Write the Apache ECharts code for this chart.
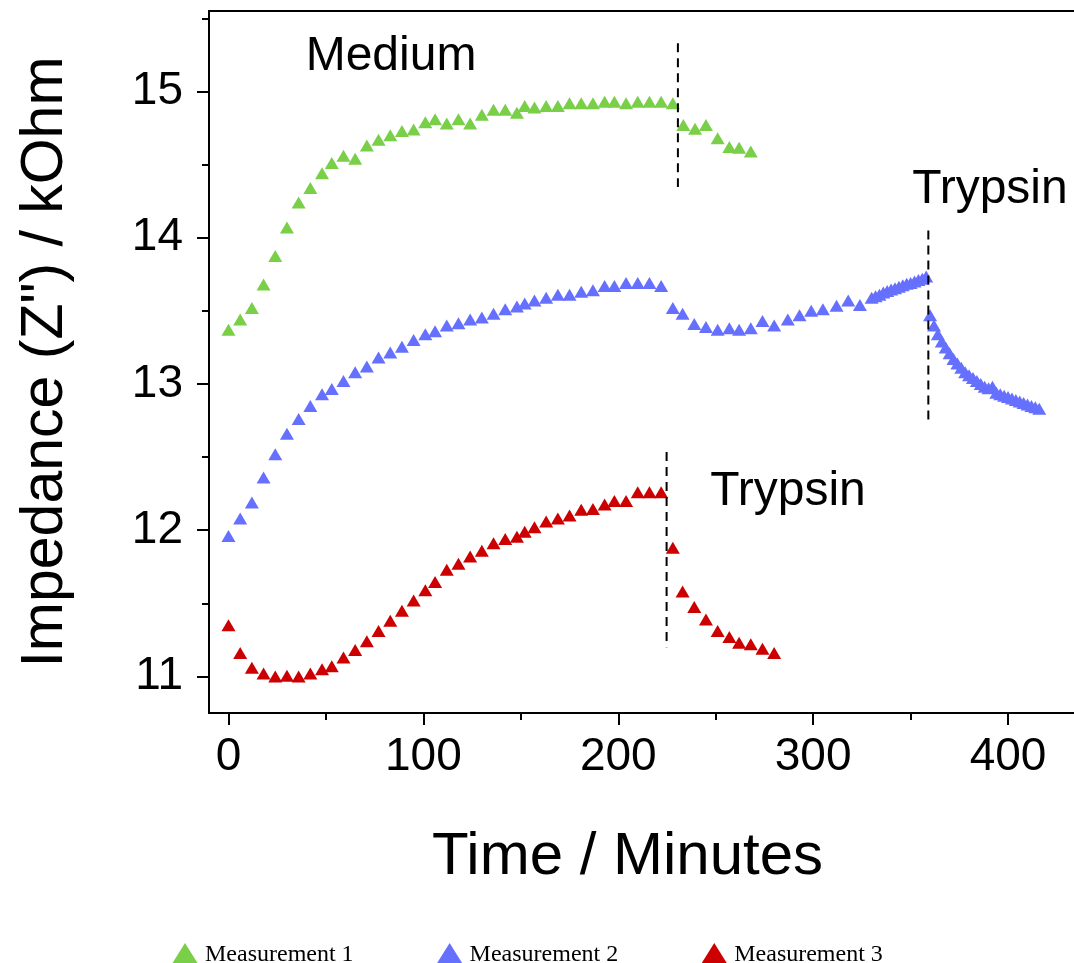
<!DOCTYPE html>
<html lang="en">
<head>
    <meta charset="UTF-8">
    <script src="https://cdn.jsdelivr.net/npm/echarts@6/dist/echarts.min.js"></script>
    <title>Impedance</title>
    <style>
        html, body { margin: 0; padding: 0; background: #fff; overflow: hidden; }
        #chart { width: 1074px; height: 963px; }
    </style>
</head>
<body>
    <div id="chart"></div>
    <script>
// time in minutes, impedance in kOhm
var m1Time = [0, 6, 12, 18, 24, 30, 36, 42, 48, 53, 59, 65, 71, 77, 83, 89, 95, 101, 106, 112, 118, 124, 130, 136, 142, 148, 152, 157, 163, 169, 175, 181, 187, 193, 198, 204, 210, 216, 222, 228,
    233.4, 239.4, 245, 251, 257, 262, 268];
var m1Z = [13.37, 13.44, 13.52, 13.68, 13.875, 14.07, 14.24, 14.34, 14.44, 14.51, 14.56, 14.54, 14.63, 14.67, 14.70, 14.73, 14.74, 14.79, 14.81, 14.78, 14.81, 14.78, 14.84, 14.875, 14.875, 14.855, 14.90, 14.89, 14.90, 14.90, 14.92, 14.92, 14.92, 14.93, 14.93, 14.92, 14.93, 14.93, 14.93, 14.92,
    14.77, 14.745, 14.77, 14.68, 14.62, 14.615, 14.59];

var m2Time = [0, 6, 12, 18, 24, 30, 36, 42, 48, 53, 59, 65, 71, 77, 83, 89, 95, 101, 106, 112, 118, 124, 130, 136, 142, 148, 152, 157, 163, 169, 175, 181, 187, 193, 198, 204, 210, 216, 222,
    228, 233, 239, 245, 251, 257, 262, 268, 274, 280, 287, 293, 299, 305, 312, 318, 324,
    330, 332, 334, 336, 338, 340, 342, 344, 346, 348, 350, 352, 354, 356, 358,
    360, 362, 364, 366, 368, 370, 372, 374, 376, 378, 380, 382, 384, 386, 388, 390, 392, 394, 396, 398, 400, 402, 404, 406, 408, 410, 412, 414, 416];
var m2Z = [11.96, 12.08, 12.19, 12.36, 12.52, 12.66, 12.76, 12.85, 12.93, 12.965, 13.02, 13.08, 13.12, 13.18, 13.215, 13.255, 13.30, 13.34, 13.36, 13.40, 13.415, 13.44, 13.455, 13.48, 13.51, 13.53, 13.55, 13.57, 13.59, 13.61, 13.61, 13.63, 13.64, 13.67, 13.67, 13.69, 13.69, 13.69, 13.67,
    13.52, 13.48, 13.41, 13.39, 13.37, 13.38, 13.37, 13.38, 13.43, 13.40, 13.44, 13.47, 13.50, 13.51, 13.535, 13.57, 13.54,
    13.59, 13.60, 13.61, 13.625, 13.635, 13.645, 13.655, 13.665, 13.675, 13.685, 13.69, 13.70, 13.71, 13.72, 13.735,
    13.47, 13.40, 13.34, 13.29, 13.25, 13.21, 13.17, 13.14, 13.11, 13.08, 13.06, 13.04, 13.02, 13.00, 12.98, 12.97, 12.98, 12.94, 12.93, 12.92, 12.91, 12.90, 12.89, 12.88, 12.87, 12.86, 12.85, 12.84, 12.83];

var m3Time = [0, 6, 12, 18, 24, 30, 36, 42, 48, 53, 59, 65, 71, 77, 83, 89, 95, 101, 106, 112, 118, 124, 130, 136, 142, 148, 152, 157, 163, 169, 175, 181, 187, 193, 198, 204, 210, 216, 222,
    228, 233, 239, 245, 251, 257, 262, 268, 274, 280];
var m3Z = [11.35, 11.16, 11.06, 11.02, 11.00, 11.005, 11.00, 11.02, 11.05, 11.07, 11.13, 11.18, 11.24, 11.31, 11.38, 11.45, 11.52, 11.59, 11.645, 11.73, 11.77, 11.82, 11.86, 11.91, 11.94, 11.955, 11.99, 12.02, 12.06, 12.08, 12.10, 12.14, 12.145, 12.175, 12.20, 12.20, 12.26, 12.26, 12.26,
    11.88, 11.58, 11.475, 11.39, 11.31, 11.27, 11.23, 11.22, 11.19, 11.16];

// vertical dashed markers (medium change / trypsin addition)
var dashTime = [230.6, 359.1, 224.8];
var dashTop = [15.33, 14.05, 12.535];
var dashBottom = [14.347, 12.72, 11.2];

// text annotations
var noteText = ['Medium', 'Trypsin', 'Trypsin'];
var noteTime = [83.4, 390.7, 287.1];
var noteZ = [15.24, 14.33, 12.26];

var xMajor = [0, 100, 200, 300, 400];
var xMinor = [50, 150, 250, 350];
var yMajor = [11, 12, 13, 14, 15];
var yMinor = [11.5, 12.5, 13.5, 14.5, 15.5];

var seriesNames = ['Measurement 1', 'Measurement 2', 'Measurement 3'];
var colors = ['#7ACF48', '#6670FF', '#CC0000'];

function zip(a, b) {
    var out = [];
    for (var i = 0; i < a.length; i++) out.push([a[i], b[i]]);
    return out;
}

var sans = 'Liberation Sans, Arial, sans-serif';
var xMin = -10, xMax = 440, yMin = 10.75, yMax = 15.55;

var series = [];
var times = [m1Time, m2Time, m3Time];
var vals = [m1Z, m2Z, m3Z];
for (var s = 0; s < 3; s++) {
    series.push({
        name: seriesNames[s],
        type: 'scatter',
        symbol: 'triangle',
        symbolSize: [14, 12],
        itemStyle: { color: colors[s], opacity: 1 },
        data: zip(times[s], vals[s])
    });
}
for (var d = 0; d < dashTime.length; d++) {
    series.push({
        type: 'line',
        silent: true,
        showSymbol: false,
        symbol: 'none',
        lineStyle: { color: '#000', width: 2, type: [9, 6] },
        data: [[dashTime[d], dashTop[d]], [dashTime[d], dashBottom[d]]]
    });
}
var notes = [];
for (var n = 0; n < noteText.length; n++) notes.push([noteTime[n], noteZ[n], noteText[n]]);
series.push({
    type: 'scatter',
    silent: true,
    symbolSize: 0,
    itemStyle: { opacity: 1 },
    data: notes,
    label: {
        show: true,
        position: 'inside',
        formatter: function (p) { return p.value[2]; },
        fontSize: 48,
        color: '#000',
        opacity: 1,
        fontFamily: sans
    }
});

var lineStyle = { color: '#000', width: 2 };

var option = {
    backgroundColor: '#fff',
    animation: false,
    grid: { left: 209, top: 11, width: 877, height: 702, outerBoundsMode: 'none' },
    legend: {
        data: seriesNames,
        left: 165,
        top: 938,
        icon: 'triangle',
        itemWidth: 30,
        itemHeight: 24,
        itemGap: 81,
        textStyle: { fontFamily: 'Liberation Serif, serif', fontSize: 24, color: '#000' }
    },
    xAxis: [
        {
            type: 'value', min: xMin, max: xMax, position: 'bottom',
            axisLine: { show: true, onZero: false, lineStyle: lineStyle },
            axisTick: { show: true, customValues: xMajor, length: 12, lineStyle: lineStyle },
            axisLabel: { customValues: xMajor, fontSize: 46, margin: 21, color: '#000', fontFamily: sans },
            splitLine: { show: false },
            name: 'Time / Minutes',
            nameLocation: 'middle',
            nameGap: 114,
            nameTextStyle: { fontSize: 60, color: '#000', fontFamily: sans, padding: [0, 40, 0, 0] }
        },
        {
            type: 'value', min: xMin, max: xMax, position: 'bottom',
            axisLine: { show: true, onZero: false, lineStyle: lineStyle },
            axisTick: { show: true, customValues: xMinor, length: 7, lineStyle: lineStyle },
            axisLabel: { show: false },
            splitLine: { show: false }
        },
        {
            type: 'value', min: xMin, max: xMax, position: 'top',
            axisLine: { show: true, onZero: false, lineStyle: lineStyle },
            axisTick: { show: false },
            axisLabel: { show: false },
            splitLine: { show: false }
        }
    ],
    yAxis: [
        {
            type: 'value', min: yMin, max: yMax, position: 'left',
            axisLine: { show: true, onZero: false, lineStyle: lineStyle },
            axisTick: { show: true, customValues: yMajor, length: 12, lineStyle: lineStyle },
            axisLabel: { customValues: yMajor, fontSize: 46, margin: 26, color: '#000', fontFamily: sans },
            splitLine: { show: false },
            name: 'Impedance (Z") / kOhm',
            nameLocation: 'middle',
            nameGap: 134,
            nameTextStyle: { fontSize: 59, color: '#000', fontFamily: sans }
        },
        {
            type: 'value', min: yMin, max: yMax, position: 'left',
            axisLine: { show: true, onZero: false, lineStyle: lineStyle },
            axisTick: { show: true, customValues: yMinor, length: 7, lineStyle: lineStyle },
            axisLabel: { show: false },
            splitLine: { show: false }
        }
    ],
    series: series
};

var chart = echarts.init(document.getElementById('chart'));
chart.setOption(option);
    </script>
</body>
</html>
